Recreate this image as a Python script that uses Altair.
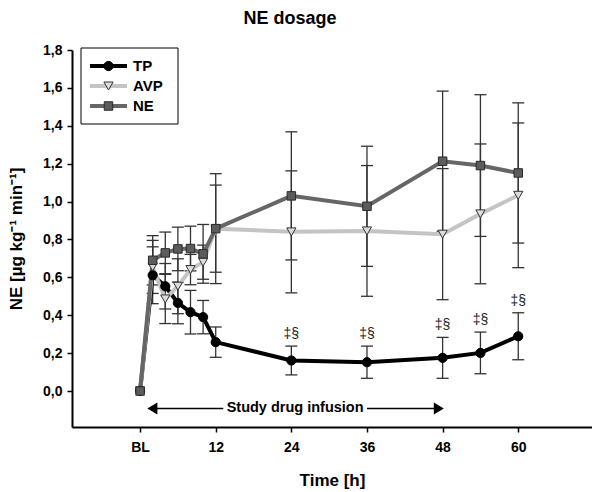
import altair as alt
import pandas as pd

# ---------------- data ----------------
series = ["TP", "AVP", "NE"]
times = [0, 2, 4, 6, 8, 10, 12, 24, 36, 48, 54, 60]
tp_mean = [0.0, 0.611, 0.553, 0.465, 0.416, 0.390, 0.258, 0.161, 0.152, 0.175, 0.201, 0.289]
tp_sd = [0.0, 0.150, 0.120, 0.110, 0.115, 0.088, 0.080, 0.076, 0.085, 0.108, 0.110, 0.124]
avp_mean = [0.0, 0.655, 0.486, 0.553, 0.641, 0.680, 0.857, 0.840, 0.845, 0.828, 0.935, 1.033]
avp_sd = [0.0, 0.140, 0.130, 0.145, 0.080, 0.090, 0.230, 0.322, 0.345, 0.346, 0.369, 0.382]
ne_mean = [0.0, 0.690, 0.729, 0.750, 0.752, 0.724, 0.857, 1.030, 0.975, 1.213, 1.190, 1.151]
ne_sd = [0.0, 0.130, 0.110, 0.115, 0.118, 0.155, 0.290, 0.338, 0.317, 0.370, 0.374, 0.370]

sig_times = [24, 36, 48, 54, 60]
sig_label = "‡§"

x_ticks = [0, 12, 24, 36, 48, 60, 72]
y_ticks = [0.0, 0.2, 0.4, 0.6, 0.8, 1.0, 1.2, 1.4, 1.6, 1.8]

infusion_label = "Study drug infusion"
arrow_left = [1.95, 13.2]     # time span of left arrow segment
arrow_right = [36.0, 47.4]    # time span of right arrow segment
arrow_level = -0.092
infusion_mid = 24.6

# ---------------- styling ----------------
FONT = "Liberation Sans"
colors = {"TP": "#000000", "AVP": "#c4c4c4", "NE": "#666666"}
shapes = {"TP": "circle", "AVP": "triangle-down", "NE": "square"}
fills = {"TP": "#000000", "AVP": "#dcdcdc", "NE": "#5c5c5c"}
strokes = {"TP": "#000000", "AVP": "#333333", "NE": "#2a2a2a"}
sizes = {"TP": 85, "AVP": 85, "NE": 72}
ERR = "#333333"

means = {"TP": tp_mean, "AVP": avp_mean, "NE": ne_mean}
sds = {"TP": tp_sd, "AVP": avp_sd, "NE": ne_sd}

rows = []
for s in series:
    for t, m, d in zip(times, means[s], sds[s]):
        rows.append({"series": s, "time": t, "mean": m, "sd": d,
                     "lo": m - d, "hi": m + d})
df = pd.DataFrame(rows)
err_df = df[df["sd"] > 0]

sig_df = df[(df["series"] == "TP") & (df["time"].isin(sig_times))].copy()
sig_df["label"] = sig_label

xscale = alt.Scale(domain=[-10.8, 71.7], nice=False, zero=False)
yscale = alt.Scale(domain=[-0.19, 1.8], nice=False, zero=False)

x_axis = alt.Axis(
    values=x_ticks, title="Time [h]", grid=False,
    labelExpr="datum.value == 0 ? 'BL' : (datum.value == 72 ? '' : datum.label)",
    domainColor="#000", domainWidth=2, tickColor="#000", tickWidth=1.5, tickSize=5,
    labelFont=FONT, labelFontSize=14, labelFontWeight="bold", labelColor="#000",
    labelPadding=8, titleFont=FONT, titleFontSize=17, titleFontWeight="bold",
    titleColor="#000", titlePadding=18, labelFlush=False,
)
y_axis = alt.Axis(
    values=y_ticks, title="NE [µg kg⁻¹ min⁻¹]", grid=False,
    labelExpr="replace(format(datum.value, '.1f'), '.', ',')",
    domainColor="#000", domainWidth=2, tickColor="#000", tickWidth=1.5, tickSize=5,
    labelFont=FONT, labelFontSize=14, labelFontWeight="bold", labelColor="#000",
    labelPadding=5, titleFont=FONT, titleFontSize=17, titleFontWeight="bold",
    titleColor="#000", titlePadding=17,
)

X = alt.X("time:Q", scale=xscale, axis=x_axis)
Y = alt.Y("mean:Q", scale=yscale, axis=y_axis)

layers = []

# error bars
layers.append(alt.Chart(err_df).mark_rule(color=ERR, strokeWidth=1.3).encode(
    x=alt.X("time:Q", scale=xscale), y=alt.Y("lo:Q", scale=yscale), y2="hi:Q"))
for col in ["lo", "hi"]:
    layers.append(alt.Chart(err_df).mark_tick(
        color=ERR, orient="horizontal", size=12, thickness=1.3, opacity=1).encode(
        x=alt.X("time:Q", scale=xscale), y=alt.Y(f"{col}:Q", scale=yscale)))

# lines
for i, s in enumerate(series):
    enc = {"x": X, "y": Y} if i == 0 else {"x": alt.X("time:Q", scale=xscale),
                                           "y": alt.Y("mean:Q", scale=yscale)}
    layers.append(alt.Chart(df[df["series"] == s]).mark_line(
        color=colors[s], strokeWidth=4).encode(**enc))

# markers
for s in series:
    layers.append(alt.Chart(df[df["series"] == s]).mark_point(
        shape=shapes[s], filled=True, fill=fills[s], stroke=strokes[s],
        strokeWidth=1, size=sizes[s], opacity=1).encode(
        x=alt.X("time:Q", scale=xscale), y=alt.Y("mean:Q", scale=yscale)))

# significance labels
layers.append(alt.Chart(sig_df).mark_text(
    font=FONT, fontSize=14, color="#222", baseline="bottom", dy=-5).encode(
    x=alt.X("time:Q", scale=xscale), y=alt.Y("hi:Q", scale=yscale), text="label:N"))

# study drug infusion arrow
one = pd.DataFrame({"a": [0]})
for seg in (arrow_left, arrow_right):
    seg_df = pd.DataFrame({"t0": [seg[0]], "t1": [seg[1]], "v": [arrow_level]})
    layers.append(alt.Chart(seg_df).mark_rule(color="#000", strokeWidth=1.5).encode(
        x=alt.X("t0:Q", scale=xscale), x2="t1:Q", y=alt.Y("v:Q", scale=yscale)))
head_df = pd.DataFrame({"t": [arrow_left[0], arrow_right[1]], "v": [arrow_level] * 2,
                        "dir": ["l", "r"]})
layers.append(alt.Chart(head_df).mark_point(filled=True, color="#000", size=100, opacity=1).encode(
    x=alt.X("t:Q", scale=xscale), y=alt.Y("v:Q", scale=yscale),
    shape=alt.Shape("dir:N", scale=alt.Scale(
        domain=["l", "r"],
        range=["M -1 0 L 1 -1.2 L 1 1.2 Z", "M 1 0 L -1 -1.2 L -1 1.2 Z"]), legend=None)))
txt_df = pd.DataFrame({"t": [infusion_mid], "v": [arrow_level], "label": [infusion_label]})
layers.append(alt.Chart(txt_df).mark_text(
    font=FONT, fontSize=14.5, fontWeight="bold", color="#000", baseline="middle").encode(
    x=alt.X("t:Q", scale=xscale), y=alt.Y("v:Q", scale=yscale), text="label:N"))

# manual legend (box + entries)
layers.append(alt.Chart(one).mark_rect(fill="white", stroke="#000", strokeWidth=1).encode(
    x=alt.value(9), x2=alt.value(106), y=alt.value(-2), y2=alt.value(74)))
for i, s in enumerate(series):
    yy = 16 + i * 20
    layers.append(alt.Chart(one).mark_rule(color=colors[s], strokeWidth=4).encode(
        x=alt.value(18), x2=alt.value(55), y=alt.value(yy)))
    layers.append(alt.Chart(one).mark_point(
        shape=shapes[s], filled=True, fill=fills[s], stroke=strokes[s],
        strokeWidth=1, size=sizes[s], opacity=1).encode(
        x=alt.value(36.5), y=alt.value(yy)))
    layers.append(alt.Chart(one).mark_text(
        font=FONT, fontSize=15, fontWeight="bold", color="#000", align="left",
        baseline="middle").encode(x=alt.value(61), y=alt.value(yy), text=alt.value(s)))

chart = alt.layer(*layers).properties(
    width=520, height=377,
    title=alt.TitleParams("NE dosage", font=FONT, fontSize=18, fontWeight="bold",
                          color="#000", anchor="middle", dx=-42, offset=15),
    autosize=alt.AutoSizeParams(type="none"),
    padding={"left": 64, "top": 42, "right": 0, "bottom": 62},
).configure_view(stroke=None)

chart.save("out.html", embed_options={"renderer": "svg", "actions": False})
